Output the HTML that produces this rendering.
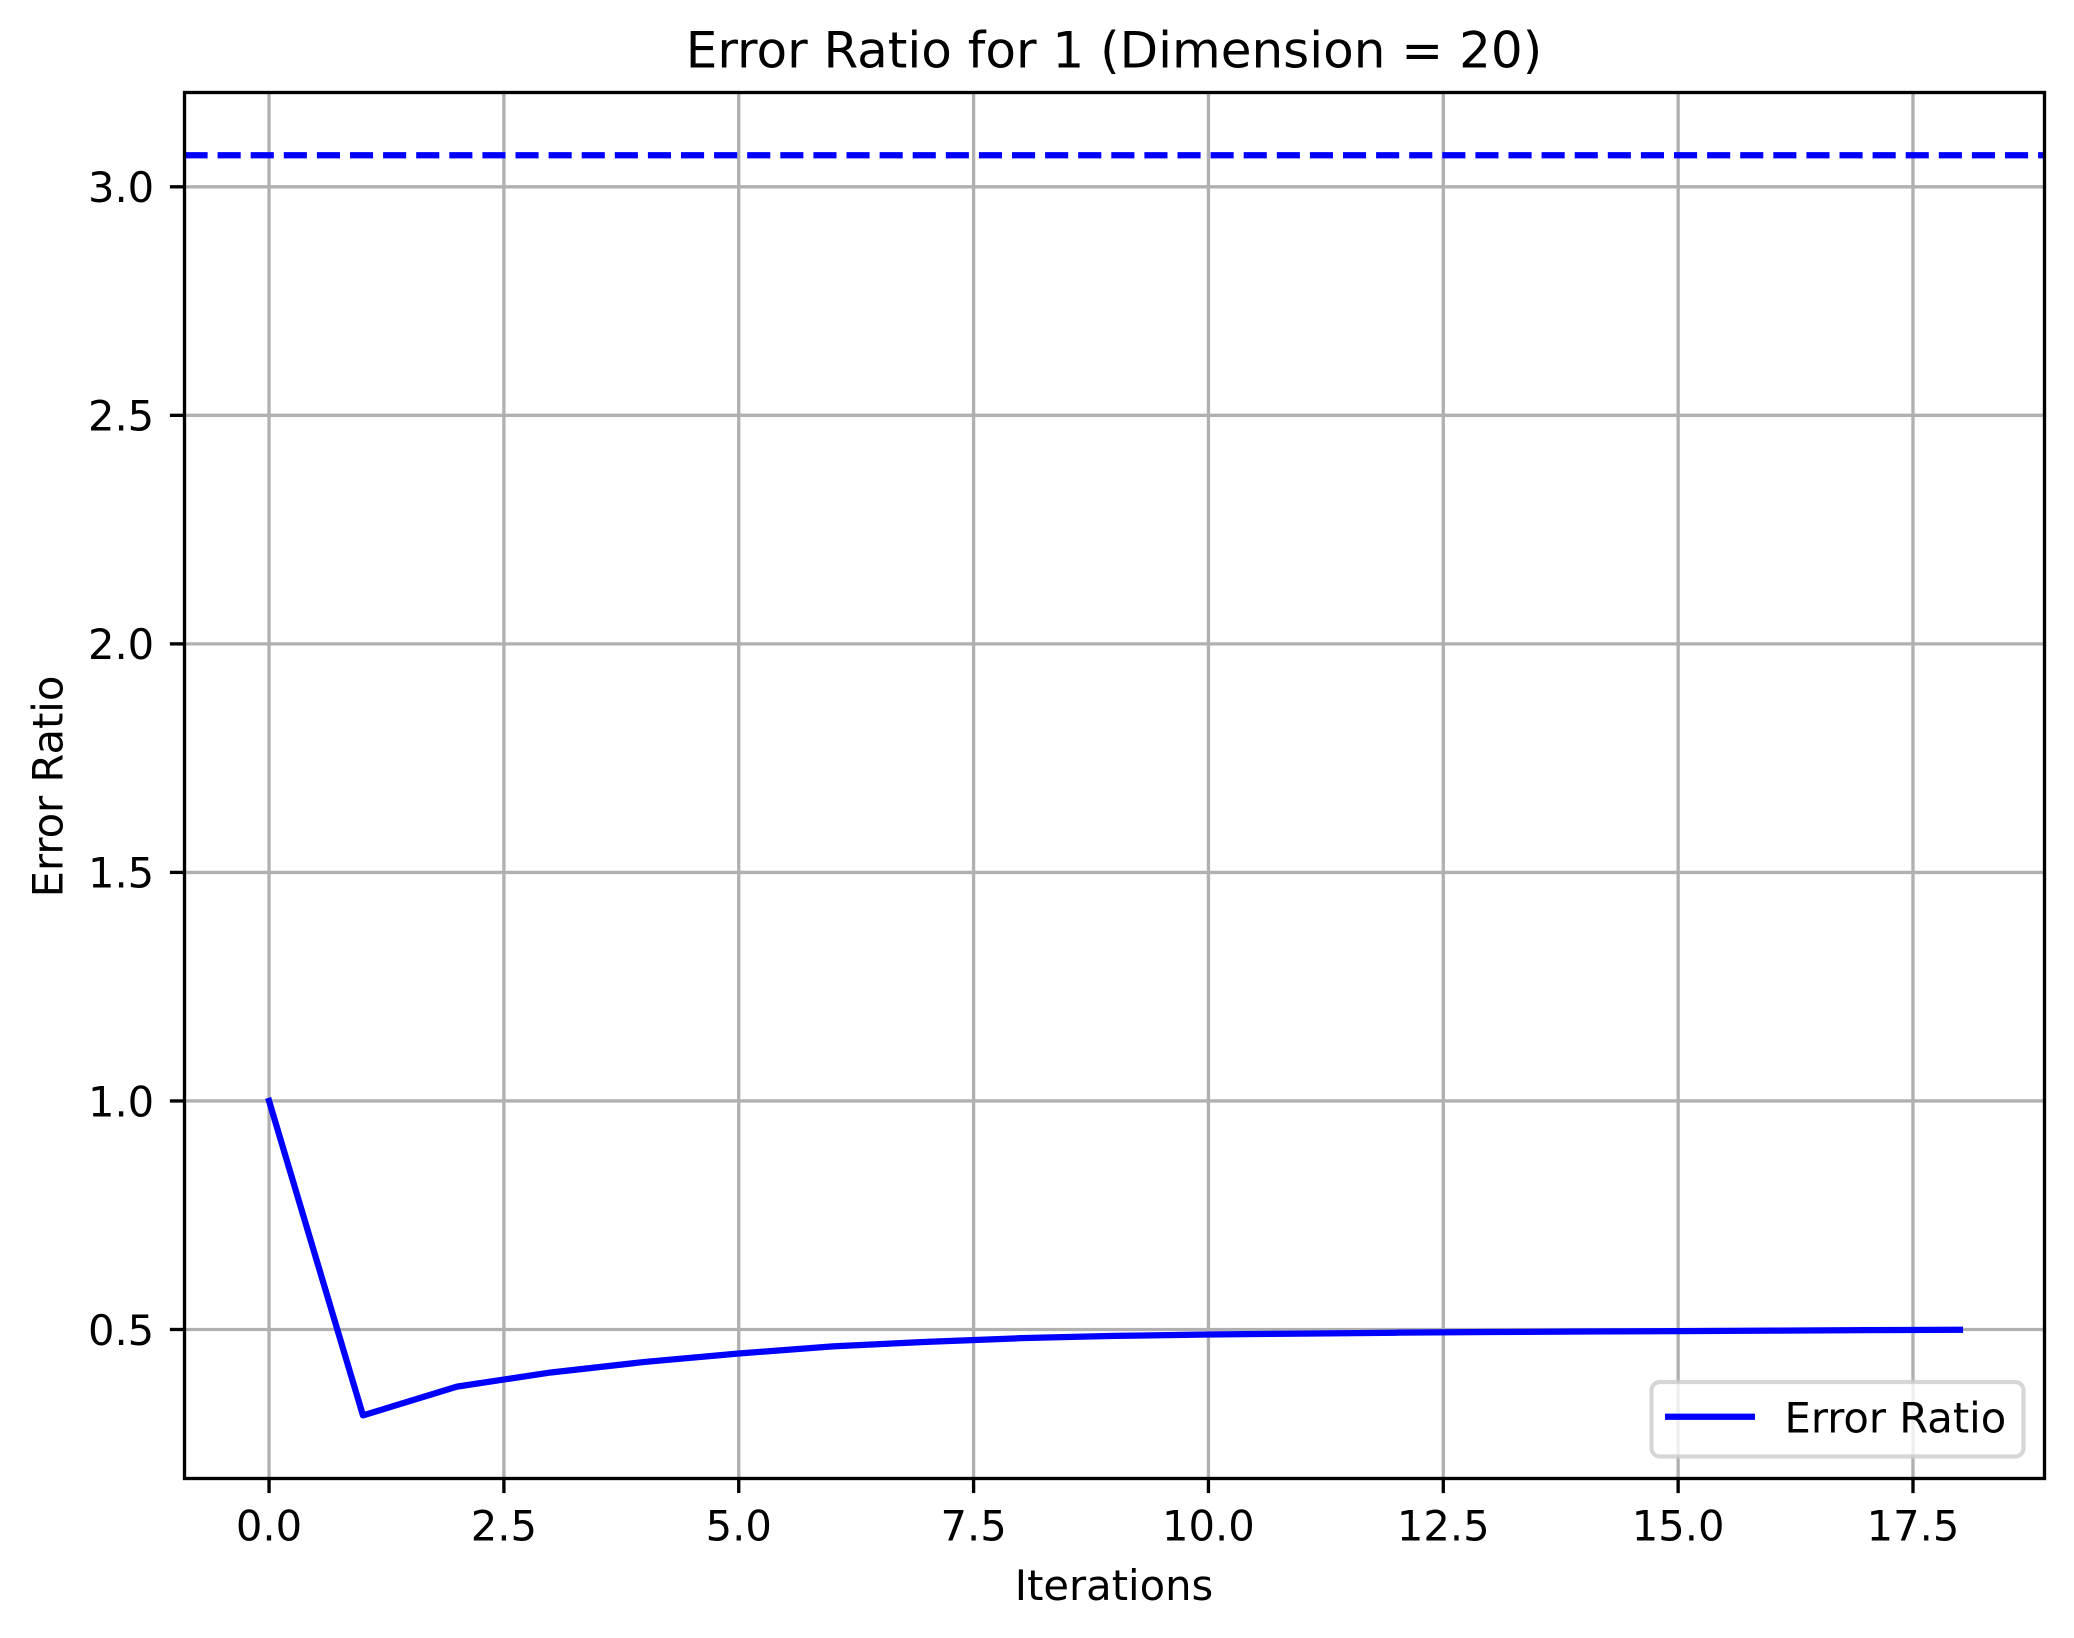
<!DOCTYPE html>
<html lang="en">
<head>
<meta charset="utf-8">
<title>Error Ratio for 1 (Dimension = 20)</title>
<style>
  html, body { margin: 0; padding: 0; background: #fff; }
  svg { display: block; }
  text { font-family: "DejaVu Sans", "Liberation Sans", sans-serif; fill: #000; }
</style>
</head>
<body>
<svg id="chart" xmlns="http://www.w3.org/2000/svg" width="2074" height="1638" viewBox="0 0 2074 1638">
  <defs>
    <clipPath id="plot-clip"><rect x="184.5" y="92.5" width="1860" height="1386"></rect></clipPath>
  </defs>
  <rect x="0" y="0" width="2074" height="1638" fill="#ffffff"></rect>
  <g id="grid-layer" clip-path="url(#plot-clip)"></g>
  <g id="series-layer" clip-path="url(#plot-clip)"></g>
  <g id="axis-layer"></g>
  <text x="1114" y="67.5" font-size="50" text-anchor="middle">Error Ratio for 1 (Dimension = 20)</text>
  <text x="1114" y="1600" font-size="41.67" text-anchor="middle">Iterations</text>
  <text x="62.5" y="786.5" font-size="41.67" text-anchor="middle" transform="rotate(-90 62.5 786.5)">Error Ratio</text>
  <g>
    <rect x="1651.5" y="1382" width="372" height="74.5" rx="8.3" ry="8.3" fill="#ffffff" fill-opacity="0.8" stroke="#cccccc" stroke-opacity="0.8" stroke-width="4.17"></rect>
    <line x1="1665" y1="1416.7" x2="1755" y2="1416.7" stroke="#0000ff" stroke-width="6.25"></line>
    <text x="1784.5" y="1432.5" font-size="41.67">Error Ratio</text>
  </g>
</svg>
<script>
const iterations = [0, 1, 2, 3, 4, 5, 6, 7, 8, 9, 10, 11, 12, 13, 14, 15, 16, 17, 18];
const errorRatio = [1.0, 0.312, 0.375, 0.406, 0.429, 0.4475, 0.463, 0.473, 0.481, 0.486, 0.489, 0.491, 0.493, 0.4945, 0.4955, 0.4965, 0.4975, 0.4985, 0.4995];
const thresholdValue = 3.069;
const xTickValues = [0, 2.5, 5, 7.5, 10, 12.5, 15, 17.5];
const xTickLabels = ["0.0", "2.5", "5.0", "7.5", "10.0", "12.5", "15.0", "17.5"];
const yTickValues = [0.5, 1.0, 1.5, 2.0, 2.5, 3.0];
const yTickLabels = ["0.5", "1.0", "1.5", "2.0", "2.5", "3.0"];

const plotLeft = 184.5, plotRight = 2044.5, plotTop = 92.5, plotBottom = 1478.5;
const xMin = -0.9, xMax = 18.9;
const yMin = 0.174, yMax = 3.2063;
const SVG_NS = "http://www.w3.org/2000/svg";

function xScale(v) { return plotLeft + (v - xMin) / (xMax - xMin) * (plotRight - plotLeft); }
function yScale(v) { return plotBottom - (v - yMin) / (yMax - yMin) * (plotBottom - plotTop); }

function makeLine(x1, y1, x2, y2, stroke, width) {
  const el = document.createElementNS(SVG_NS, "line");
  el.setAttribute("x1", x1);
  el.setAttribute("y1", y1);
  el.setAttribute("x2", x2);
  el.setAttribute("y2", y2);
  el.setAttribute("stroke", stroke);
  el.setAttribute("stroke-width", width);
  return el;
}

const gridLayer = document.getElementById("grid-layer");
const seriesLayer = document.getElementById("series-layer");
const axisLayer = document.getElementById("axis-layer");

xTickValues.forEach(function (v, i) {
  const x = xScale(v);
  const grid = makeLine(x, plotTop, x, plotBottom, "#b0b0b0", 3.33);
  
  
  gridLayer.appendChild(grid);

  const tick = makeLine(x, plotBottom, x, plotBottom + 14.6, "#000000", 3.33);
  
  
  axisLayer.appendChild(tick);

  const label = document.createElementNS(SVG_NS, "text");
  label.setAttribute("x", x);
  label.setAttribute("y", 1540.5);
  label.setAttribute("font-size", "41.67");
  label.setAttribute("text-anchor", "middle");
  label.textContent = xTickLabels[i];
  
  
  axisLayer.appendChild(label);
});

yTickValues.forEach(function (v, i) {
  const y = yScale(v);
  const grid = makeLine(plotLeft, y, plotRight, y, "#b0b0b0", 3.33);
  
  
  gridLayer.appendChild(grid);

  const tick = makeLine(plotLeft - 14.6, y, plotLeft, y, "#000000", 3.33);
  
  
  axisLayer.appendChild(tick);

  const label = document.createElementNS(SVG_NS, "text");
  label.setAttribute("x", 154.2);
  label.setAttribute("y", y + 15.3);
  label.setAttribute("font-size", "41.67");
  label.setAttribute("text-anchor", "end");
  label.textContent = yTickLabels[i];
  
  
  axisLayer.appendChild(label);
});

const thresholdLine = makeLine(plotLeft, yScale(thresholdValue), plotRight, yScale(thresholdValue), "#0000ff", 6.25);
thresholdLine.setAttribute("stroke-dasharray", "23.1 10");


seriesLayer.appendChild(thresholdLine);

const seriesPath = document.createElementNS(SVG_NS, "polyline");
seriesPath.setAttribute("points", iterations.map(function (v, i) {
  return xScale(v).toFixed(2) + "," + yScale(errorRatio[i]).toFixed(2);
}).join(" "));
seriesPath.setAttribute("fill", "none");
seriesPath.setAttribute("stroke", "#0000ff");
seriesPath.setAttribute("stroke-width", "6.25");
seriesPath.setAttribute("stroke-linejoin", "round");
seriesPath.setAttribute("stroke-linecap", "square");


seriesLayer.appendChild(seriesPath);

const frame = document.createElementNS(SVG_NS, "rect");
frame.setAttribute("x", plotLeft);
frame.setAttribute("y", plotTop);
frame.setAttribute("width", plotRight - plotLeft);
frame.setAttribute("height", plotBottom - plotTop);
frame.setAttribute("fill", "none");
frame.setAttribute("stroke", "#000000");
frame.setAttribute("stroke-width", "3.33");


axisLayer.appendChild(frame);
</script>
</body>
</html>
